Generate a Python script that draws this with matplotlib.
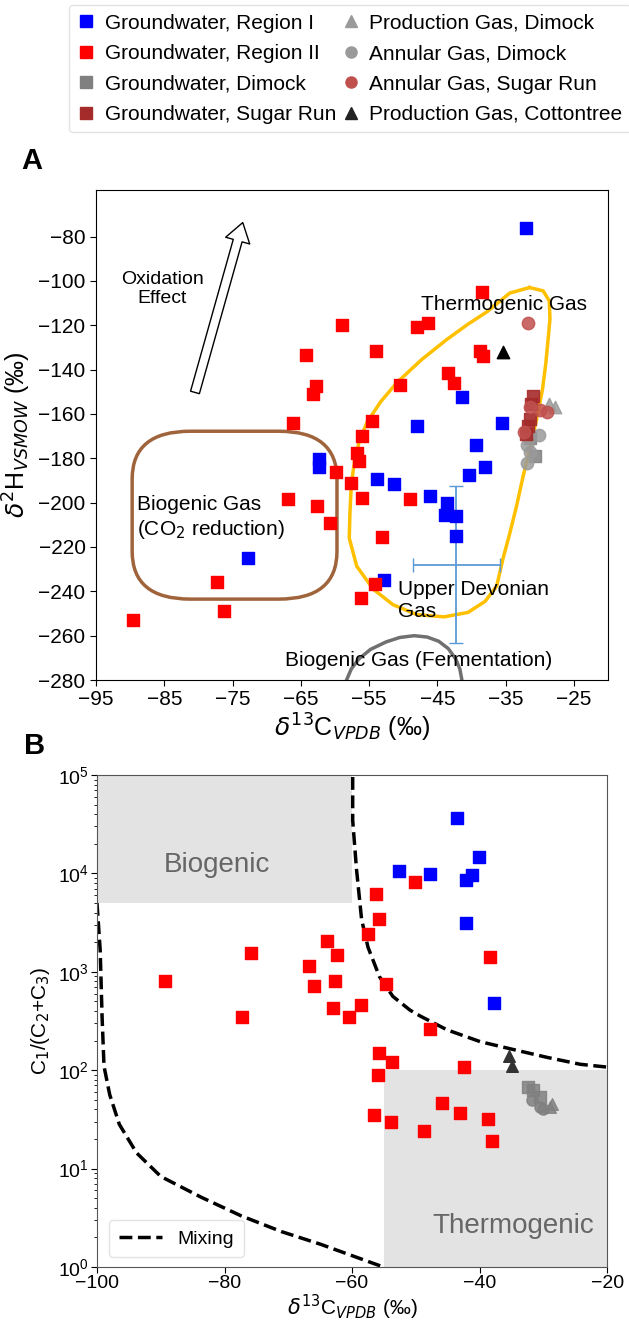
import numpy as np
import matplotlib.pyplot as plt
from matplotlib.patches import FancyBboxPatch
from matplotlib.lines import Line2D

plt.rcParams['font.family'] = ['Liberation Sans', 'DejaVu Sans']
plt.rcParams['mathtext.fontset'] = 'dejavusans'

# ---------------- Panel A: d13C vs d2H ----------------
gw1_a_c = [-32.05, -41.4, -48.0, -35.5, -39.4, -37.95, -40.4, -53.9, -51.3, -46.1,
           -43.6, -43.9, -42.3, -42.3, -52.8, -62.35, -62.35, -72.7]
gw1_a_h = [-76, -152.5, -165.6, -164, -174, -184, -187.6, -189.5, -191.7, -197,
           -200, -205.7, -206, -215, -235, -180.5, -184, -225]

gw2_a_c = [-38.45, -58.9, -48.0, -46.3, -54.0, -64.25, -38.75, -38.35, -43.4, -42.6,
           -50.4, -62.75, -63.25, -54.6, -66.2, -56.0, -56.7, -56.4, -59.9, -57.6,
           -56.0, -49.0, -66.9, -62.6, -60.7, -53.1, -54.2, -56.2, -77.25, -76.25, -89.6]
gw2_a_h = [-105, -120, -121, -119, -131.4, -133.6, -131.8, -134, -141.7, -146,
           -147, -147.6, -151, -163, -164, -170, -177.7, -181, -186, -191,
           -198, -198.5, -198.5, -201.6, -209, -215.6, -236.8, -243, -236, -249, -253]

gw_dim_a_c = [-30.7, -31.45]
gw_dim_a_h = [-179, -171]
gw_sr_a_c = [-31.05, -31.35, -31.45, -31.75, -32.05]
gw_sr_a_h = [-152, -155.7, -162.4, -165.6, -169]
prod_dim_a_c = [-28.7, -27.7]
prod_dim_a_h = [-155.7, -157]
ann_dim_a_c = [-30.1, -31.85, -31.45, -31.85]
ann_dim_a_h = [-169.6, -174, -177, -182]
ann_sr_a_c = [-31.65, -31.45, -30.0, -29.0, -32.35]
ann_sr_a_h = [-119, -157, -158, -159, -168]
prod_ct_a_c = [-35.4]
prod_ct_a_h = [-132]

# Upper Devonian gas (mean +/- range)
devonian_c, devonian_h = -42.2, -228
devonian_cerr, devonian_herr = 6.4, 35.5

# thermogenic field outline
thermo_c = [-31.5, -29.5, -28.6, -28.5, -28.7, -29.1, -29.6, -30.5, -31.5, -32.5,
            -33.4, -34.4, -35.4, -36.3, -38.0, -40.5, -44.0, -48.0, -51.5, -54.4,
            -56.8, -57.9, -57.8, -57.6, -57.1, -56.4, -55.3, -53.3, -50.9, -47.3,
            -43.6, -40.5, -37.75, -34.4, -31.5]
thermo_h = [-103, -104.5, -109, -117, -124, -137, -149, -163, -176, -189,
            -201.6, -214, -225.5, -237.6, -244.5, -249.5, -251.5, -250.5, -246, -239,
            -228.7, -216, -204.4, -192, -180.5, -172, -163.8, -154.5, -145.8, -135.5,
            -126.4, -119.5, -114, -105.5, -103]

# fermentation field outline
ferm_c = [-58.3, -57.6, -56.5, -54.8, -52.5, -50.5, -48.4, -46.5, -44.8, -43.4,
          -42.3, -41.7, -41.4]
ferm_h = [-280, -275, -270.5, -266.2, -262.8, -260.8, -260, -260.6, -262.5, -265.8,
          -270.5, -275, -280]

# CO2 reduction field (box)
co2_c0, co2_c1 = -89.7, -59.7
co2_h0, co2_h1 = -243.5, -167.8

# ---------------- Panel B: d13C vs C1/(C2+C3) ----------------
gw1_b_c = [-43.6, -40.1, -52.7, -47.8, -41.2, -42.1, -42.1, -37.7]
gw1_b_r = [36300, 14700, 10500, 9800, 9700, 8500, 3150, 480]

gw2_b_c = [-50.2, -56.3, -55.8, -57.5, -38.4, -64.0, -62.4, -66.7, -66.0, -62.7,
           -54.6, -63.0, -58.6, -60.5, -89.3, -75.9, -77.2, -47.8, -55.8, -53.8,
           -56.0, -42.5, -45.9, -43.1, -38.7, -38.1, -56.6, -53.9, -48.7]
gw2_b_r = [8100, 6200, 3450, 2400, 1400, 2050, 1480, 1150, 710, 800,
           760, 425, 460, 350, 800, 1550, 350, 263, 150, 120,
           90, 107, 46, 37, 32, 19, 35, 29.5, 24]

gw_dim_b_c = [-32.4, -31.6, -30.5]
gw_dim_b_r = [68, 63, 54]
ann_dim_b_c = [-31.8, -30.0, -30.5]
ann_dim_b_r = [50, 40, 42]
prod_dim_b_c = [-28.6, -29.0]
prod_dim_b_r = [45, 42]
prod_ct_b_c = [-35.4, -34.9]
prod_ct_b_r = [138, 110]

# mixing curves
mix1_c = [-59.9, -59.9, -59.3, -58.5, -57.5, -55.7, -53.6, -50.9, -49.3, -45.1,
          -39.9, -34.7, -29.4, -24.2, -19.8]
mix1_logr = [4.98, 4.54, 4.04, 3.53, 3.25, 2.95, 2.75, 2.61, 2.55, 2.41,
             2.29, 2.21, 2.13, 2.06, 2.03]
mix2_c = [-100.0, -99.5, -99.2, -98.9, -98.0, -96.5, -93.8, -90.0, -83.7, -77.4,
          -71.1, -64.9, -55.1]
mix2_logr = [3.70, 3.22, 2.54, 2.04, 1.75, 1.45, 1.16, 0.92, 0.71, 0.52,
             0.36, 0.23, 0.0]

bio_box = (-100, -60, 5000, 1e5)
thermo_box = (-55, -20, 1, 100)

# colours
c_blue = '#0000ff'
c_red = '#ff0000'
c_grey = '#808080'
c_brown = '#a52a2a'
c_lgrey = '#9a9a9a'
c_rose = '#c0504d'
c_black = '#222222'

fig = plt.figure(figsize=(6.29, 13.21), dpi=100)

ax = fig.add_axes([0.1526, 0.4852, 0.814, 0.371])

# fields
ax.plot(thermo_c, thermo_h, color='#ffc000', lw=2.5, solid_joinstyle='round', zorder=2)
ax.plot(ferm_c, ferm_h, color='#707070', lw=2.5, zorder=2, solid_joinstyle='round')
rx, ry = 8.5, 21.5
box = FancyBboxPatch((co2_c0, co2_h0), co2_c1 - co2_c0, co2_h1 - co2_h0,
                     boxstyle='round,pad=0,rounding_size=%g' % rx,
                     mutation_aspect=ry / rx, fc='none', ec='#a0643c', lw=2.5, zorder=2)
ax.add_patch(box)

ax.errorbar(devonian_c, devonian_h, xerr=devonian_cerr, yerr=devonian_herr,
            color='#5b9bd5', lw=1.3, capsize=5, zorder=3)

sq = 75
ax.scatter(gw1_a_c, gw1_a_h, marker='s', s=sq, color=c_blue, zorder=4)
ax.scatter(gw2_a_c, gw2_a_h, marker='s', s=sq, color=c_red, zorder=4)
ax.scatter(gw_dim_a_c, gw_dim_a_h, marker='s', s=sq, color=c_grey, alpha=0.85, zorder=4)
ax.scatter(ann_dim_a_c, ann_dim_a_h, marker='o', s=80, color=c_lgrey, alpha=0.85, zorder=4)
ax.scatter(prod_dim_a_c, prod_dim_a_h, marker='^', s=80, color=c_lgrey, alpha=0.85, zorder=4)
ax.scatter(gw_sr_a_c, gw_sr_a_h, marker='s', s=sq, color=c_brown, alpha=0.9, zorder=5)
ax.scatter(ann_sr_a_c, ann_sr_a_h, marker='o', s=80, color=c_rose, alpha=0.85, zorder=5)
ax.scatter(prod_ct_a_c, prod_ct_a_h, marker='^', s=80, color='black', zorder=5)

# oxidation arrow
ax.annotate('', xy=(-73.5, -73.7), xytext=(-80.5, -150.3),
            arrowprops=dict(arrowstyle='simple,head_length=0.45,head_width=0.6,tail_width=0.22',
                            mutation_scale=30, fc='white', ec='black', lw=1,
                            shrinkA=0, shrinkB=0))

ax.text(-85.3, -103.6, 'Oxidation\nEffect', ha='center', va='center', fontsize=14)
ax.text(-35.3, -110.6, 'Thermogenic Gas', ha='center', va='center', fontsize=15)
ax.text(-89.0, -207, 'Biogenic Gas\n(CO$_2$ reduction)', ha='left', va='center', fontsize=15)
ax.text(-50.8, -244, 'Upper Devonian\nGas', ha='left', va='center', fontsize=15)
ax.text(-47.7, -271, 'Biogenic Gas (Fermentation)', ha='center', va='center', fontsize=15,
        zorder=6)

ax.set_xlim(-95, -20)
ax.set_ylim(-280, -59)
ax.set_xticks(np.arange(-95, -24, 10))
ax.set_yticks(np.arange(-280, -79, 20))
ax.tick_params(labelsize=15, length=4)
ax.set_xlabel(r'$\delta^{13}$C$_{VPDB}$ (‰)', fontsize=18, labelpad=2)
ax.set_ylabel(r'$\delta^{2}$H$_{VSMOW}$ (‰)', fontsize=18, labelpad=4)
fig.text(0.05, 0.878, 'A', fontsize=21, fontweight='bold', ha='center', va='center')

# legend
handles = [
    Line2D([], [], ls='none', marker='s', ms=8, color=c_blue),
    Line2D([], [], ls='none', marker='s', ms=8, color=c_red),
    Line2D([], [], ls='none', marker='s', ms=8, color=c_grey),
    Line2D([], [], ls='none', marker='s', ms=8, color=c_brown),
    Line2D([], [], ls='none', marker='^', ms=8, color=c_lgrey),
    Line2D([], [], ls='none', marker='o', ms=8, color=c_lgrey),
    Line2D([], [], ls='none', marker='o', ms=8, color=c_rose),
    Line2D([], [], ls='none', marker='^', ms=8, color=c_black),
]
labels = ['Groundwater, Region I', 'Groundwater, Region II', 'Groundwater, Dimock',
          'Groundwater, Sugar Run', 'Production Gas, Dimock', 'Annular Gas, Dimock',
          'Annular Gas, Sugar Run', 'Production Gas, Cottontree']
fig.legend(handles, labels, ncol=2, loc='upper left', bbox_to_anchor=(0.11, 0.996),
           borderaxespad=0, fontsize=15, handlelength=0.8, handletextpad=0.5,
           columnspacing=0.3, labelspacing=0.55, borderpad=0.4, frameon=True,
           edgecolor='#dddddd', fancybox=True)

# ---------------- Panel B ----------------
bx = fig.add_axes([0.1542, 0.0409, 0.811, 0.3724])
bx.fill_between(bio_box[:2], bio_box[2], bio_box[3], color='#e3e3e3', lw=0, zorder=0)
bx.fill_between(thermo_box[:2], thermo_box[2], thermo_box[3], color='#e3e3e3', lw=0, zorder=0)
bx.text(-81.2, 10 ** 4.09, 'Biogenic', fontsize=20, color='#666666', ha='center', va='center')
bx.text(-34.7, 10 ** 0.42, 'Thermogenic', fontsize=20, color='#666666', ha='center', va='center')

bx.plot(mix1_c, 10 ** np.array(mix1_logr), ls='--', color='black', lw=2.5, label='Mixing', zorder=2)
bx.plot(mix2_c, 10 ** np.array(mix2_logr), ls='--', color='black', lw=2.5, zorder=2)

sb = 65
bx.scatter(gw1_b_c, gw1_b_r, marker='s', s=sb, color=c_blue, zorder=4)
bx.scatter(gw2_b_c, gw2_b_r, marker='s', s=sb, color=c_red, zorder=4)
bx.scatter(gw_dim_b_c, gw_dim_b_r, marker='s', s=sb, color=c_grey, alpha=0.85, zorder=4)
bx.scatter(ann_dim_b_c, ann_dim_b_r, marker='o', s=65, color=c_grey, alpha=0.85, zorder=4)
bx.scatter(prod_dim_b_c, prod_dim_b_r, marker='^', s=70, color=c_grey, alpha=0.85, zorder=4)
bx.scatter(prod_ct_b_c, prod_ct_b_r, marker='^', s=70, color='#333333', zorder=5)

bx.set_yscale('log')
bx.set_xlim(-100, -20)
bx.set_ylim(1, 1e5)
bx.set_xticks([-100, -80, -60, -40, -20])
bx.tick_params(labelsize=14, length=4, pad=2)
for s in bx.spines.values():
    s.set_color('#555555')
bx.set_xlabel(r'$\delta^{13}$C$_{VPDB}$ (‰)', fontsize=15, labelpad=0)
bx.set_ylabel('C$_1$/(C$_2$+C$_3$)', fontsize=15, labelpad=4)
bx.legend(loc='lower left', fontsize=14, handlelength=2.2, borderpad=0.5,
          edgecolor='#dddddd', bbox_to_anchor=(0.005, 0.0))
fig.text(0.055, 0.435, 'B', fontsize=21, fontweight='bold', ha='center', va='center')

fig.savefig('out.png', dpi=100)
